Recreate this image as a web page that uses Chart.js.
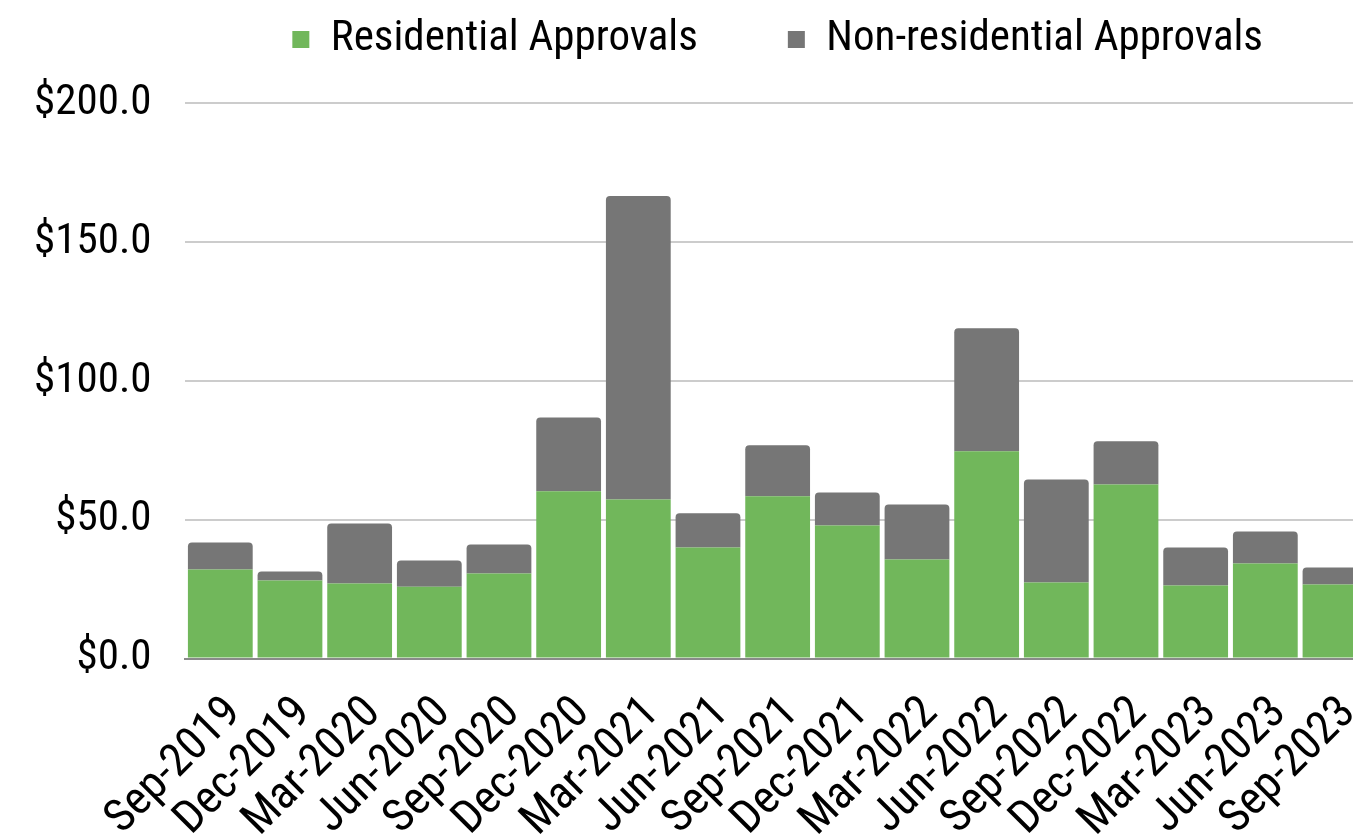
<!DOCTYPE html>
<html>
<head>
<meta charset="utf-8">
<script src="https://cdn.jsdelivr.net/npm/chart.js@4.4.1/dist/chart.umd.min.js"></script>
<style>
    html, body { margin: 0; padding: 0; background: #ffffff; overflow: hidden; }
    #wrap { position: relative; width: 1403px; height: 835px; }
</style>
</head>
<body>
<div id="wrap"><canvas id="approvalsChart"></canvas></div>
<script>
// Quarter labels
const quarters = [
    'Sep-2019', 'Dec-2019', 'Mar-2020', 'Jun-2020', 'Sep-2020', 'Dec-2020',
    'Mar-2021', 'Jun-2021', 'Sep-2021', 'Dec-2021', 'Mar-2022', 'Jun-2022',
    'Sep-2022', 'Dec-2022', 'Mar-2023', 'Jun-2023', 'Sep-2023'
];

// Values ($m)
const residential = [32.1, 28.1, 27.0, 25.9, 30.6, 60.2, 57.3, 40.0, 58.4, 47.9, 35.7, 74.6, 27.4, 62.7, 26.3, 34.2, 26.7];
const nonResidential = [9.7, 3.3, 21.6, 9.4, 10.5, 26.6, 109.2, 12.3, 18.4, 11.9, 19.8, 44.3, 37.1, 15.5, 13.7, 11.6, 6.1];

// Y axis ticks
const yTicks = [0, 50, 100, 150, 200];

const fontFamily = '"Roboto Condensed", "Liberation Sans Narrow", "DejaVu Sans Condensed", sans-serif';

// Adds some room between the legend and the plot
const legendSpacing = {
    id: 'legendSpacing',
    beforeInit(chart) {
        const originalFit = chart.legend.fit;
        chart.legend.fit = function fit() {
            originalFit.bind(chart.legend)();
            this.height += 32;
        };
    }
};

function createApprovalsChart() {
    const ctx = document.getElementById('approvalsChart').getContext('2d');
    new Chart(ctx, {
        type: 'bar',
        data: {
            labels: quarters,
            datasets: [
                {
                    label: 'Residential Approvals',
                    data: residential,
                    backgroundColor: '#71b75b',
                    borderWidth: 0
                },
                {
                    label: 'Non-residential Approvals',
                    data: nonResidential,
                    backgroundColor: '#767676',
                    borderWidth: 0,
                    borderRadius: { topLeft: 4, topRight: 4 },
                    borderSkipped: 'bottom'
                }
            ]
        },
        plugins: [legendSpacing],
        options: {
            responsive: true,
            maintainAspectRatio: false,
            animation: false,
            layout: {
                padding: { top: -72, right: 7, left: 0, bottom: 0 }
            },
            datasets: {
                bar: {
                    categoryPercentage: 1.0,
                    barPercentage: 0.93
                }
            },
            plugins: {
                legend: {
                    position: 'top',
                    fullSize: false,
                    labels: {
                        color: '#000000',
                        boxWidth: 17,
                        boxHeight: 17,
                        padding: 90,
                        font: { family: fontFamily, size: 43 }
                    }
                },
                tooltip: { enabled: false }
            },
            scales: {
                x: {
                    stacked: true,
                    grid: { display: false, drawTicks: false },
                    border: { display: true, color: '#8a8a8a', width: 2 },
                    afterFit: (scale) => {
                        scale.height -= 41;
                    },
                    ticks: {
                        color: '#000000',
                        minRotation: 45,
                        maxRotation: 45,
                        autoSkip: false,
                        padding: 28,
                        labelOffset: 14,
                        font: { family: fontFamily, size: 46 }
                    }
                },
                y: {
                    stacked: true,
                    min: 0,
                    max: 200,
                    afterBuildTicks: (axis) => {
                        axis.ticks = yTicks.map(v => ({ value: v }));
                    },
                    grid: { color: '#cccccc', lineWidth: 2, drawTicks: false },
                    border: { display: false },
                    ticks: {
                        color: '#000000',
                        padding: 34,
                        font: { family: fontFamily, size: 43 },
                        callback: (value) => '$' + Number(value).toFixed(1)
                    }
                }
            }
        }
    });
}

document.addEventListener('DOMContentLoaded', createApprovalsChart);
</script>
</body>
</html>
